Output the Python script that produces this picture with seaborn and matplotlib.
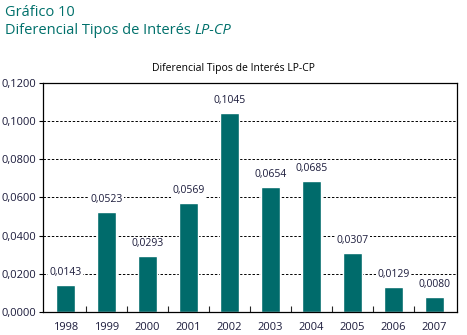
import matplotlib
matplotlib.use('Agg')
import matplotlib.pyplot as plt
import seaborn as sns
import pandas as pd

years = ['1998', '1999', '2000', '2001', '2002', '2003', '2004', '2005', '2006', '2007']
values = [0.0143, 0.0523, 0.0293, 0.0569, 0.1045, 0.0654, 0.0685, 0.0307, 0.0129, 0.0080]

df = pd.DataFrame({'year': years, 'value': values})

teal = '#006B6B'
text_col = '#1c1c3c'
title_col = '#00706b'

sns.set_style('white')
plt.rcParams['font.family'] = ['Open Sans', 'DejaVu Sans']

fig = plt.figure(figsize=(4.67, 3.35), dpi=100)
ax = fig.add_axes([0.092, 0.069, 0.887, 0.683])

sns.barplot(data=df, x='year', y='value', color=teal, width=0.45, saturation=1, ax=ax, zorder=2)

ax.set_ylim(0, 0.12)
ax.set_xlim(-0.55, 9.55)
ax.set_yticks([i * 0.02 for i in range(7)])
ax.set_yticklabels([f'{v:.4f}'.replace('.', ',') for v in [i * 0.02 for i in range(7)]],
                   fontsize=8, color=text_col)
ax.tick_params(axis='y', length=3, width=0.8, color='black', pad=2, left=True)
ax.tick_params(axis='x', length=0, labelsize=8, labelcolor=text_col, pad=7)
ax.set_xticks([i + 0.5 for i in range(9)], minor=True)
ax.tick_params(axis='x', which='minor', direction='in', length=4, width=0.8, bottom=True)

for y in [0.02, 0.04, 0.06, 0.08, 0.10]:
    ax.axhline(y, color='black', linestyle=(0, (2.5, 1.8)), linewidth=0.7, zorder=1)

for spine in ax.spines.values():
    spine.set_visible(True)
    spine.set_color('black')
    spine.set_linewidth(0.9)

for i, v in enumerate(values):
    ax.text(i, v + 0.0037, f'{v:.4f}'.replace('.', ','), ha='center', va='bottom',
            fontsize=7.5, color=text_col, zorder=3,
            bbox=dict(facecolor='white', edgecolor='none', pad=1))

ax.set_xlabel('')
ax.set_ylabel('')

fig.text(0.5, 0.797, 'Diferencial Tipos de Interés LP-CP', ha='center', va='center',
         fontsize=7.5, color='black')

fig.text(0.011, 0.962, 'Gráfico 10', ha='left', va='center', fontsize=10.5, color=title_col)
t = fig.text(0.011, 0.908, 'Diferencial Tipos de Interés ', ha='left', va='center',
             fontsize=10.5, color=title_col)
fig.canvas.draw()
bb = t.get_window_extent()
x1 = fig.transFigure.inverted().transform((bb.x1, bb.y0))[0]
fig.text(x1, 0.908, 'LP-CP', ha='left', va='center', fontsize=10.5, color=title_col, style='italic')

fig.savefig('out.png', dpi=100)
